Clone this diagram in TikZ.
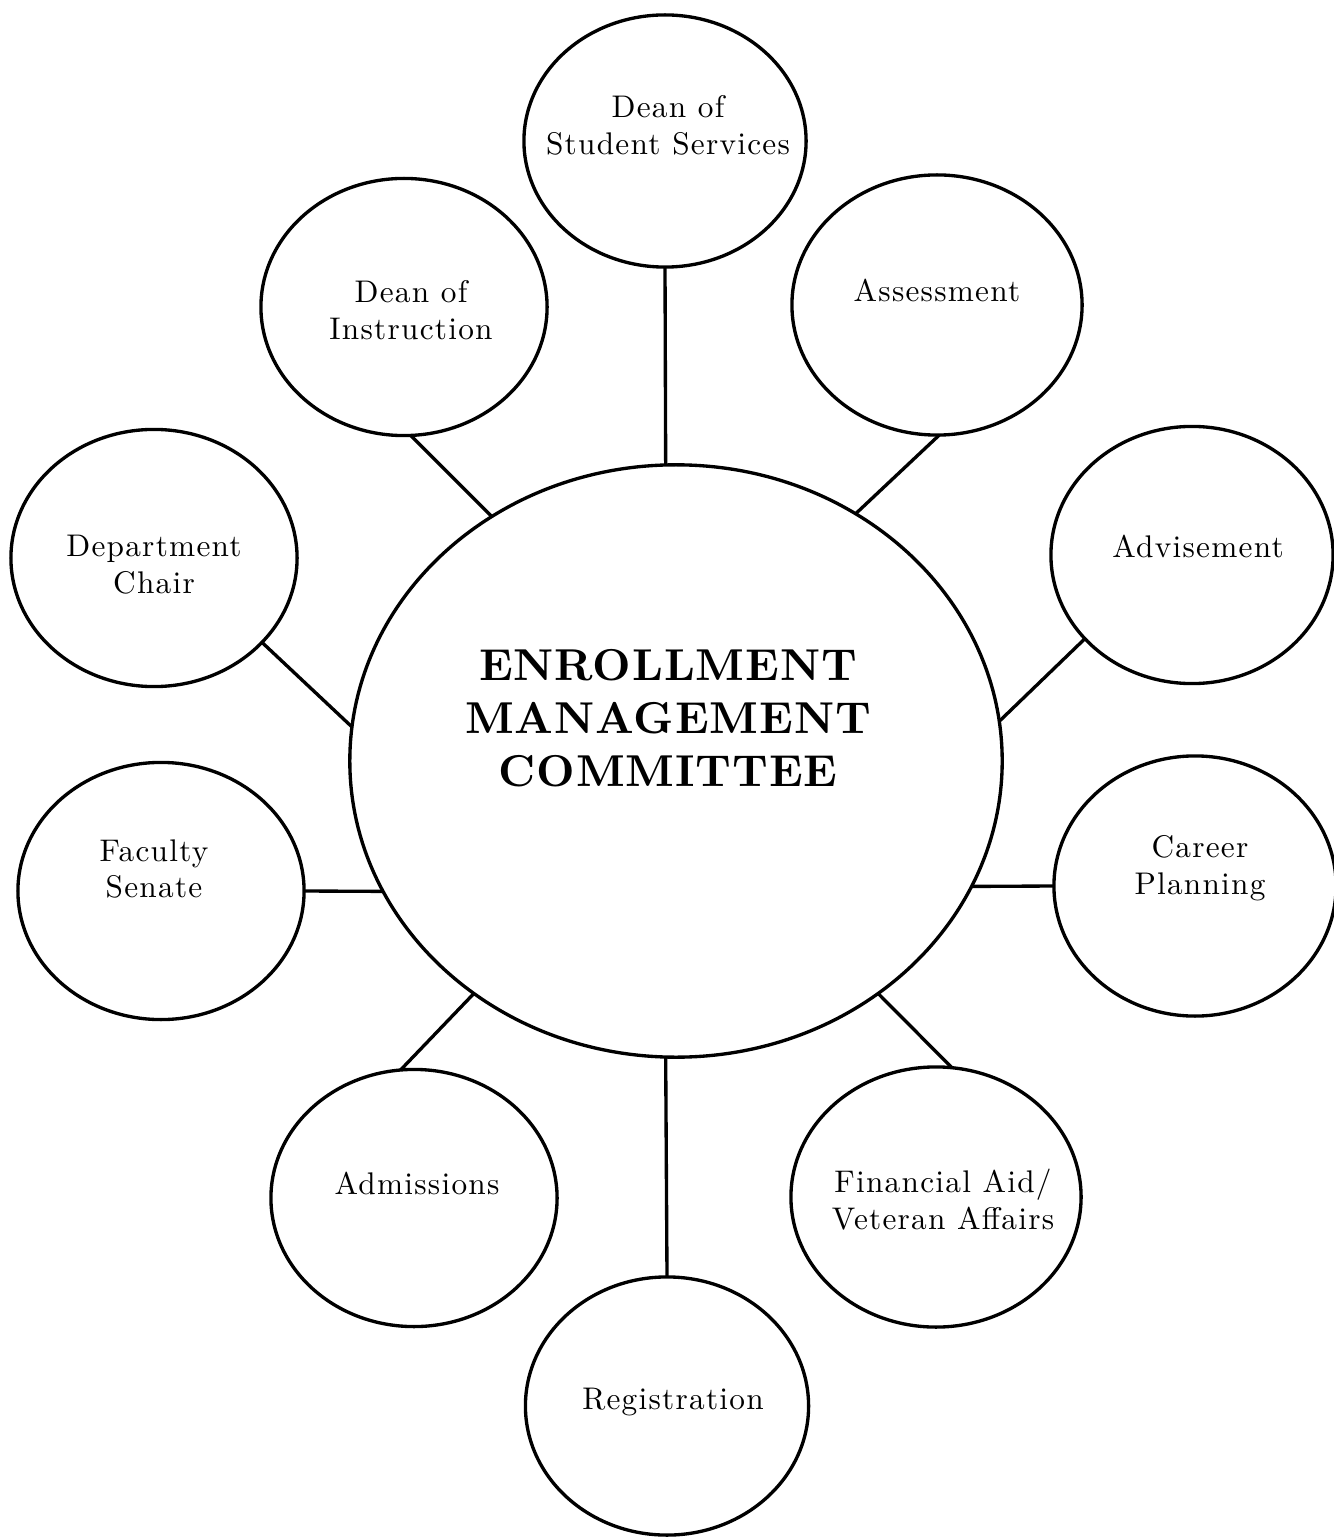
\documentclass[tikz,border=0pt]{standalone}
\usepackage{fontspec}
\setmainfont{lmroman10-regular.otf}[LetterSpace=4]
\newfontfamily\titlefont{lmroman10-bold.otf}[LetterSpace=2]
\usetikzlibrary{shapes.geometric}
\begin{document}
\begin{tikzpicture}[x=0.01cm,y=-0.01cm,
  bubble/.style={ellipse, draw, line width=0.95pt, inner sep=0pt, outer sep=0pt,
                 minimum width=2.86cm, minimum height=2.57cm},
  hub/.style={ellipse, draw, line width=0.95pt, inner sep=0pt, outer sep=0pt,
              minimum width=6.52cm, minimum height=5.92cm},
  lbl/.style={align=center, inner sep=0pt, font=\fontsize{8.9}{10.5}\selectfont},
  ttl/.style={align=center, inner sep=0pt, font=\titlefont\fontsize{12.7}{15}\selectfont},
  link/.style={line width=0.95pt}]
\useasboundingbox (0,0) rectangle (1334,1537);

% central committee
\node[hub] (emc) at (676,761) {};
\node[ttl] (emct) at (668,718) {ENROLLMENT\\MANAGEMENT\\COMMITTEE};

% satellites
\node[bubble, minimum width=2.82cm, minimum height=2.52cm] (dss) at (665,141) {};
\node[bubble] (doi) at (404,307) {};
\node[bubble, minimum width=2.90cm, minimum height=2.60cm] (asm) at (937,305) {};
\node[bubble] (dept) at (154,558) {};
\node[bubble, minimum width=2.82cm] (adv) at (1192,555) {};
\node[bubble] (fac) at (161,891) {};
\node[bubble, minimum width=2.82cm, minimum height=2.60cm] (car) at (1195,886) {};
\node[bubble] (adm) at (414,1198) {};
\node[bubble, minimum width=2.90cm, minimum height=2.60cm] (fin) at (936,1197) {};
\node[bubble, minimum width=2.83cm, minimum height=2.58cm] (reg) at (667,1406) {};

% labels
\node[lbl] (dsst) at (668,125) {Dean of\\Student Services};
\node[lbl] (doit) at (411,310) {Dean of\\Instruction};
\node[lbl] (asmt) at (937,290) {Assessment};
\node[lbl] (deptt) at (154,565) {Department\\Chair};
\node[lbl] (advt) at (1198,546) {Advisement};
\node[lbl] (fact) at (154,869) {Faculty\\Senate};
\node[lbl] (cart) at (1200,868) {Career\\Planning};
\node[lbl] (admt) at (417,1183) {Admissions};
\node[lbl] (fint) at (943,1200) {Financial Aid/\\Veteran Affairs};
\node[lbl] (regt) at (673,1402) {Registration};

% connectors
\draw[link] (dss.-90) -- (emc.92);
\draw[link] (doi.-87) -- (emc.127);
\draw[link] (asm.-89) -- (emc.54);
\draw[link] (dept.-38) -- (emc.174);
\draw[link] (adv.-142) -- (emc.7);
\draw[link] (fac.0) -- (emc.-156);
\draw[link] (car.180) -- (emc.-23);
\draw[link] (adm.96) -- (emc.-131);
\draw[link] (fin.83) -- (emc.-49);
\draw[link] (reg.90) -- (emc.-92);
\end{tikzpicture}
\end{document}
